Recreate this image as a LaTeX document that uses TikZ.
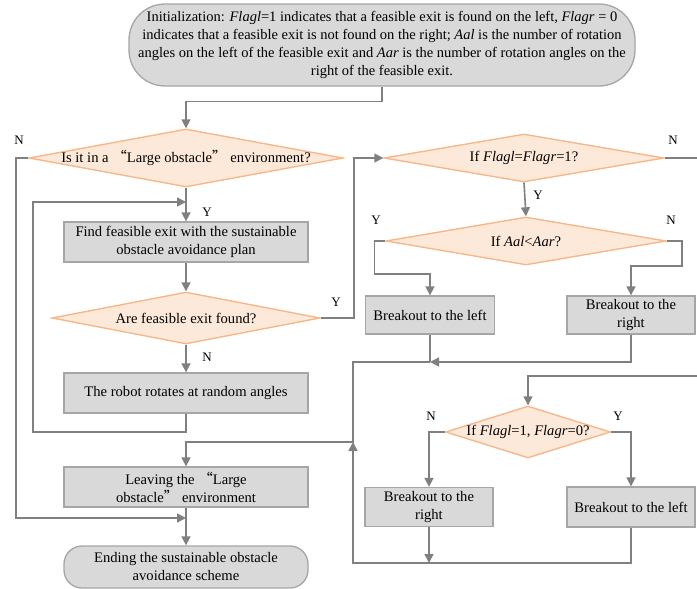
\documentclass[tikz,border=0pt]{standalone}
\usepackage{fontspec}
\setmainfont{Liberation Serif}
\newfontfamily\cjkfont{Noto Sans CJK SC}
\usetikzlibrary{shapes.geometric,arrows.meta}
\definecolor{boxfill}{HTML}{D9D9D9}
\definecolor{boxline}{HTML}{A6A6A6}
\definecolor{linkc}{HTML}{808080}
\definecolor{decfill}{HTML}{FDE9DA}
\definecolor{decline}{HTML}{F6B889}
\newcommand{\myoq}{{\cjkfont “}}
\newcommand{\mycq}{{\cjkfont ”}}
\begin{document}
\begin{tikzpicture}[x=1pt,y=-1pt,
  procbox/.style={draw=boxline, fill=boxfill, line width=1.3pt, align=center, inner sep=0pt, font=\fontsize{14.6}{18}\selectfont},
  decbox/.style={diamond, draw=decline, fill=decfill, line width=1.4pt, inner sep=0pt, font=\fontsize{14.6}{18}\selectfont},
  link/.style={draw=linkc, line width=1.6pt},
  arr/.style={link, -{Triangle[length=9pt,width=9pt]}},
  yn/.style={font=\fontsize{13}{13}\selectfont, inner sep=0pt}]
\useasboundingbox (0,0) rectangle (697,589);

% nodes
\node[procbox, rounded corners=36pt, minimum width=506pt, minimum height=82pt,
      font=\fontsize{14.5}{18.2}\selectfont] (top) at (382,45)
  {Initialization: \textit{Flagl}=1 indicates that a feasible exit is found on the left, \textit{Flagr} = 0\\
   indicates that a feasible exit is not found on the right; \textit{Aal} is the number of rotation\\
   angles on the left of the feasible exit and \textit{Aar} is the number of rotation angles on the\\
   right of the feasible exit.};

\node[decbox, minimum width=314pt, minimum height=58pt] (d1) at (186,158)
  {\makebox[0pt]{Is it in a \myoq Large obstacle\mycq\ environment?}};
\node[procbox, minimum width=244pt, minimum height=40pt] (find) at (186,242)
  {Find feasible exit with the sustainable\\obstacle avoidance plan};
\node[decbox, minimum width=268pt, minimum height=52pt] (d2) at (186,318)
  {\makebox[0pt]{Are feasible exit found?}};
\node[procbox, minimum width=244pt, minimum height=40pt] (rot) at (186,393)
  {The robot rotates at random angles};
\node[procbox, minimum width=244pt, minimum height=40pt] (leave) at (186,487)
  {Leaving the \myoq Large\\obstacle\mycq\ environment};
\node[procbox, rounded corners=18pt, minimum width=244pt, minimum height=42pt] (ending) at (186,567)
  {Ending the sustainable obstacle\\avoidance scheme};

\node[decbox, minimum width=280pt, minimum height=48pt] (d3) at (524,158)
  {\makebox[0pt]{If \textit{Flagl}=\textit{Flagr}=1?}};
\node[decbox, minimum width=280pt, minimum height=48pt] (d4) at (526,241)
  {\makebox[0pt]{If \textit{Aal}<\textit{Aar}?}};
\node[procbox, minimum width=129pt, minimum height=38pt] (bl1) at (430,315)
  {Breakout to the left};
\node[procbox, minimum width=128pt, minimum height=38pt] (br1) at (631,315)
  {Breakout to the\\right};
\node[decbox, minimum width=165pt, minimum height=52pt] (d5) at (528,432)
  {\makebox[0pt]{If \textit{Flagl}=1, \textit{Flagr}=0?}};
\node[procbox, minimum width=128pt, minimum height=39pt] (br2) at (429,507)
  {Breakout to the\\right};
\node[procbox, minimum width=128pt, minimum height=40pt] (bl2) at (631,507)
  {Breakout to the left};

% junction coordinates
\coordinate (loopin) at (186,202);
\coordinate (cLoop) at (33,432);
\coordinate (cL) at (16,518);
\coordinate (j2) at (186,518);
\coordinate (edge) at (699,376);
\coordinate (j3) at (430,362);
\coordinate (j4) at (353,442);
\coordinate (j5) at (429,563);
\coordinate (cB) at (353,563);

% connectors
\draw[arr] (top.south) -- ++(0,15) -| (d1.north);
\draw[arr] (d1.south) -- (find.north);
\draw[arr] (find.south) -- (d2.north);
\draw[arr] (d2.south) -- (rot.north);
\draw[arr] (rot.south) |- (cLoop) |- (loopin);
\draw[arr] (d1.west) -| (cL) -- (j2);
\draw[arr] (leave.south) -- (ending.north);
\draw[arr] (d2.east) -- ++(33,0) |- (d3.west);
\draw[arr] (d3.east) -| (edge) -| (d5.north);
\draw[arr] (d3.south) -- (d4.north);
\draw[arr] (d4.west) -- ++(-11,0) -- ++(0,33) -| (bl1.north);
\draw[arr] (d4.east) -- ++(15,0) -- ++(0,25) -| (br1.north);
\draw[link] (bl1.south) -- (j3);
\draw[arr] (br1.south) |- (j3);
\draw[arr] (j3) -| (j4) -| (leave.north);
\draw[arr] (d5.west) -| (br2.north);
\draw[arr] (d5.east) -| (bl2.north);
\draw[arr] (br2.south) -- (j5);
\draw[arr] (bl2.south) |- (cB) -- (j4);

% labels
\node[yn] (l1) at (207,212) {Y};
\node[yn] (l2) at (207,357) {N};
\node[yn] (l3) at (336,302) {Y};
\node[yn] (l4) at (19,140) {N};
\node[yn] (l5) at (673,140) {N};
\node[yn] (l6) at (538,195) {Y};
\node[yn] (l7) at (376,220) {Y};
\node[yn] (l8) at (671,220) {N};
\node[yn] (l9) at (431,416) {N};
\node[yn] (l10) at (618,416) {Y};
\end{tikzpicture}
\end{document}
